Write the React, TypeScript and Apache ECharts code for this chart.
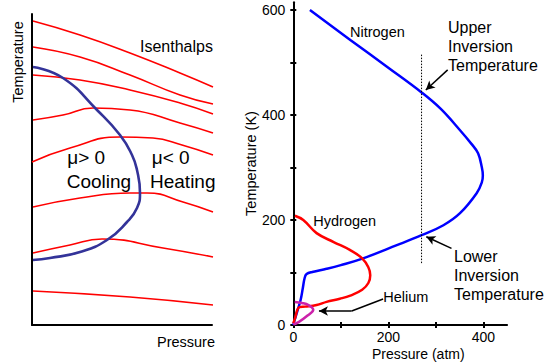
import React, { useEffect, useRef } from "react";
import * as echarts from "echarts";

// ---------- Left panel (schematic, arbitrary units) ----------
const isenthalp1 = [[1, 304], [48, 290], [98, 272], [148, 252], [181, 238]];
const isenthalp2 = [[1, 278], [48, 268], [98, 250], [148, 230], [181, 221]];
const isenthalp3 = [[1, 250], [48, 245], [98, 235], [148, 222], [181, 211]];
const isenthalp4 = [[1, 205], [31, 210], [61, 217], [98, 215], [148, 202], [181, 192]];
const isenthalp5 = [[0, 163], [38, 177], [88, 188], [121, 187], [150, 180], [181, 170]];
const isenthalp6 = [[1, 118], [48, 127], [98, 132], [115, 132], [151, 123], [181, 113]];
const isenthalp7 = [[1, 72], [38, 80], [70, 86], [131, 77], [181, 68]];
const isenthalp8 = [[1, 34], [98, 28], [181, 20]];
const isenthalps = [isenthalp1, isenthalp2, isenthalp3, isenthalp4, isenthalp5, isenthalp6, isenthalp7, isenthalp8];
const inversionCurve = [
  [1, 258], [31, 247], [65, 215], [88, 190], [100, 170], [105, 155], [108, 132],
  [105, 117], [95, 103], [75, 85], [48, 73], [18, 67], [1, 65],
];

// ---------- Right panel: Pressure (atm) vs Temperature (K) ----------
const nitrogen = [
  [35, 600], [120, 543], [200, 490], [270, 443], [310, 412], [351, 371], [375, 345],
  [389, 327], [397, 300], [399, 285], [397, 272], [386, 251], [351, 213], [316, 190],
  [270, 171], [218, 152], [147, 127], [100, 114], [70, 107], [40, 101], [28, 97],
  [24, 90], [20, 70], [15.5, 48], [8, 25], [3, 10], [0, 0],
];
const hydrogen = [
  [3.5, 208], [21, 200], [49, 175], [85, 158], [119, 143], [145, 127], [158, 110],
  [162, 95], [158, 80], [145, 67], [120, 56], [98, 50], [70, 44], [49, 38],
  [25, 35], [13, 34], [8.5, 29], [4, 14], [0, 3],
];
const helium = [[3, 44], [18, 42], [32, 38], [42, 29], [30, 18], [12, 6], [0, 1]];
const inversionPressure = [[270, 515], [270, 117]];
const upperArrow = [[325, 486], [279, 447.5]];
const lowerArrow = [[333, 146], [280, 168]];
const heliumArrowBend = [[189, 49.5], [123, 26.7]];
const heliumArrowHead = [[123, 26.7], [54, 26.7]];

const xTicks = [0, 100, 200, 300, 400];
const xLabels = [0, 200, 400];
const yTicks = [0, 100, 200, 300, 400, 500, 600];
const yLabels = [0, 200, 400, 600];

const FONT = "'Liberation Sans', Arial, Helvetica, sans-serif";

export default function App() {
  const ref = useRef<HTMLDivElement>(null);
  useEffect(() => {
    if (!ref.current) return;
    const chart = echarts.init(ref.current, null, { renderer: "svg" });
    const plain = { show: false };
    const axisLine = { show: true, lineStyle: { color: "#000", width: 2 } };

    const txt = (text: string, x: number, y: number, size: number, extra: any = {}) => ({
      type: "text",
      x,
      y,
      silent: true,
      ...extra,
      style: {
        text,
        fontSize: size,
        fontFamily: FONT,
        fill: "#000",
        align: extra.align || "left",
        verticalAlign: "middle",
      },
    });

    const option: any = {
      animation: false,
      backgroundColor: "#fff",
      textStyle: { fontFamily: FONT },
      grid: [
        { left: 32, top: 14, width: 180, height: 311 },
        { left: 293.3, top: 325 - 615 * 0.525, width: 450 * 0.475, height: 615 * 0.525 },
      ],
      xAxis: [
        { type: "value", gridIndex: 0, min: 0, max: 180, axisLine, axisTick: plain, axisLabel: plain, splitLine: plain },
        {
          type: "value", gridIndex: 1, min: 0, max: 450, interval: 100, position: "bottom", axisLine,
          axisTick: { show: true, inside: false, length: 3, customValues: xTicks, lineStyle: { color: "#000", width: 2 } },
          axisLabel: { show: true, customValues: xLabels, margin: 5, fontSize: 14, color: "#000", fontFamily: FONT },
          splitLine: plain,
        },
        {
          type: "value", gridIndex: 1, min: 0, max: 450, interval: 100, position: "bottom", axisLine: plain,
          axisTick: { show: true, inside: true, length: 3, customValues: xTicks, lineStyle: { color: "#000", width: 2 } },
          axisLabel: plain, splitLine: plain,
        },
      ],
      yAxis: [
        { type: "value", gridIndex: 0, min: 0, max: 311, axisLine, axisTick: plain, axisLabel: plain, splitLine: plain },
        {
          type: "value", gridIndex: 1, min: 0, max: 615, interval: 100, position: "left", axisLine,
          axisTick: { show: true, inside: false, length: 3, customValues: yTicks, lineStyle: { color: "#000", width: 2 } },
          axisLabel: { show: true, customValues: yLabels, margin: 8, fontSize: 14, color: "#000", fontFamily: FONT },
          splitLine: plain,
        },
        {
          type: "value", gridIndex: 1, min: 0, max: 615, interval: 100, position: "left", axisLine: plain,
          axisTick: { show: true, inside: true, length: 3, customValues: yTicks, lineStyle: { color: "#000", width: 2 } },
          axisLabel: plain, splitLine: plain,
        },
      ],
      series: [
        ...isenthalps.map((d) => ({
          type: "line", xAxisIndex: 0, yAxisIndex: 0, data: d, smooth: 0.5, symbol: "none", clip: false,
          lineStyle: { color: "#ff0000", width: 1.6 }, silent: true,
        })),
        {
          type: "line", xAxisIndex: 0, yAxisIndex: 0, data: inversionCurve, smooth: 0.5, symbol: "none", clip: false,
          lineStyle: { color: "#333399", width: 2.6 }, silent: true,
        },
        {
          type: "line", xAxisIndex: 1, yAxisIndex: 1, data: nitrogen, smooth: 0.4, symbol: "none", clip: false,
          lineStyle: { color: "#0000ff", width: 2.5 }, silent: true,
        },
        {
          type: "line", xAxisIndex: 1, yAxisIndex: 1, data: hydrogen, smooth: 0.4, symbol: "none", clip: false,
          lineStyle: { color: "#ff0000", width: 2.5 }, silent: true,
        },
        {
          type: "line", xAxisIndex: 1, yAxisIndex: 1, data: helium, smooth: 0.4, symbol: "none", clip: false,
          lineStyle: { color: "#cc22aa", width: 2.5 }, silent: true,
        },
        {
          type: "line", xAxisIndex: 1, yAxisIndex: 1, data: inversionPressure, symbol: "none", clip: false,
          lineStyle: { color: "#000", width: 1, type: [1.5, 1.5] }, silent: true,
          markLine: {
            silent: true,
            symbol: ["none", "arrow"],
            symbolSize: [7, 9],
            label: { show: false },
            lineStyle: { color: "#000", width: 1.5, type: "solid" },
            data: [
              [{ coord: upperArrow[0] }, { coord: upperArrow[1] }],
              [{ coord: lowerArrow[0] }, { coord: lowerArrow[1] }],
              [{ coord: heliumArrowBend[0] }, { coord: heliumArrowBend[1], symbol: "none" }],
              [{ coord: heliumArrowHead[0] }, { coord: heliumArrowHead[1] }],
            ],
          },
        },
      ],
      graphic: [
        txt("Temperature", 18, 62, 14.5, { rotation: Math.PI / 2, align: "center" }),
        txt("Pressure", 186, 341.6, 14.5, { align: "center" }),
        txt("Isenthalps", 140, 46.7, 16),
        txt("\u03bc> 0", 67.3, 157.3, 19),
        txt("\u03bc< 0", 151.7, 157.3, 19),
        txt("Cooling", 66.7, 181, 19),
        txt("Heating", 150, 181, 19),
        txt("Nitrogen", 350, 32, 14.5),
        txt("Upper", 448, 27.4, 16),
        txt("Inversion", 448, 46.6, 16),
        txt("Temperature", 448, 65.8, 16),
        txt("Lower", 454, 256.4, 16),
        txt("Inversion", 454, 275.4, 16),
        txt("Temperature", 454, 294.4, 16),
        txt("Hydrogen", 313.3, 221.3, 14.5),
        txt("Helium", 383.3, 297, 14.5),
        txt("Temperature (K)", 250.5, 163.5, 14.5, { rotation: Math.PI / 2, align: "center" }),
        txt("Pressure (atm)", 418.3, 353.5, 14, { align: "center" }),
      ],
    };
    chart.setOption(option);
    return () => chart.dispose();
  }, []);
  return (
    <div
      ref={ref}
      style={{ position: "absolute", left: 0, top: 0, width: 548, height: 364, background: "#fff" }}
    />
  );
}
